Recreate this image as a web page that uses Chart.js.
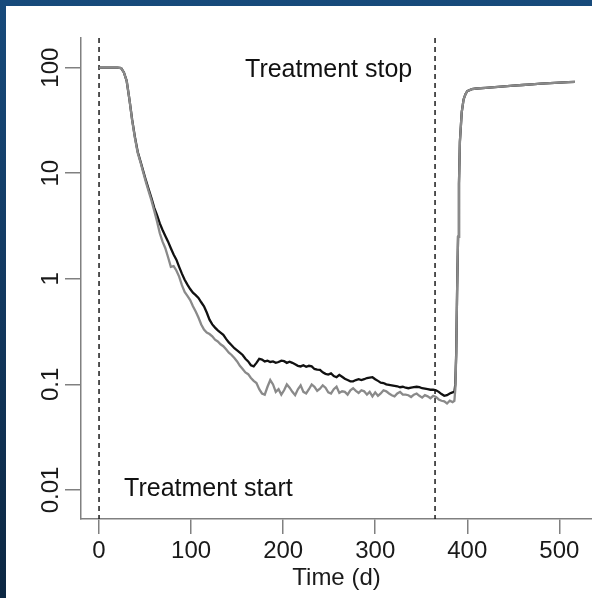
<!DOCTYPE html>
<html>
<head>
<meta charset="utf-8">
<script src="https://cdn.jsdelivr.net/npm/chart.js@4/dist/chart.umd.min.js"></script>
<style>
  html, body { margin: 0; padding: 0; }
  body { width: 592px; height: 598px; overflow: hidden; position: relative;
         background: linear-gradient(to bottom, #174a7b 0%, #12385f 50%, #0c2742 100%); }
  #panel { position: absolute; left: 6px; top: 6px; width: 586px; height: 592px; background: #ffffff; }
  canvas { display: block; }
</style>
</head>
<body>
<div id="panel"><canvas id="c" width="586" height="592"></canvas></div>
<script>
// ---- data ----
const days = [0,5,10,15,20,24,
27,30,33,36,39,42,45,48,51,54,57,60,63,66,69,72,75,78,81,84,87,90,93,96,99,
102,105,108,111,114,117,120,123,126,129,132,135,138,141,144,147,150,153,156,159,
162,165,168,171,174,177,180,183,186,189,192,195,198,201,204,207,210,213,216,219,
222,225,228,231,234,237,240,243,246,249,252,255,258,261,264,267,270,273,276,279,
282,285,288,291,294,297,300,303,306,309,312,315,318,321,324,327,330,333,336,339,
342,345,348,351,354,357,360,363,366,369,372,375,378,381,384,
386,387,388,389,390,391,392,394,396,398,400,405,410,420,430,440,450,460,470,480,490,500,510,517];

const blackValues = [100,100,100,100,100,99,
90,75,50,32,22,16,13,10.5,8.5,7,5.8,4.7,4.0,3.35,2.9,2.55,2.25,1.95,1.7,1.52,1.3,1.12,0.98,0.88,0.8,
0.74,0.7,0.66,0.6,0.55,0.48,0.41,0.37,0.345,0.325,0.31,0.295,0.27,0.25,0.235,0.22,0.21,0.2,0.19,0.175,
0.165,0.152,0.148,0.16,0.175,0.172,0.165,0.168,0.163,0.165,0.16,0.163,0.168,0.166,0.16,0.164,0.16,0.155,0.15,0.148,
0.152,0.147,0.15,0.148,0.14,0.138,0.137,0.13,0.126,0.124,0.127,0.12,0.117,0.123,0.118,0.113,0.11,0.107,0.107,0.11,
0.112,0.11,0.112,0.115,0.116,0.117,0.112,0.108,0.104,0.103,0.1,0.099,0.098,0.097,0.096,0.094,0.095,0.093,0.092,0.093,
0.094,0.095,0.094,0.092,0.091,0.09,0.089,0.089,0.088,0.085,0.081,0.078,0.079,0.082,0.084,
0.085,0.1,0.2,0.8,2.5,8,20,38,50,56,60,62.5,63.5,64.5,65.5,66.5,67.5,68.5,69.5,70.5,71.5,72.3,73,73.5];

const grayValues = [100,100,100,100,100,99,
90,75,50,31.5,21.5,15.6,12.7,10.2,8.2,6.7,5.5,4.4,3.5,2.7,2.25,1.95,1.6,1.3,1.32,1.2,1.05,0.87,0.75,0.69,0.63,
0.55,0.49,0.43,0.37,0.33,0.31,0.3,0.285,0.265,0.255,0.24,0.23,0.215,0.2,0.19,0.178,0.165,0.15,0.14,0.13,
0.125,0.115,0.108,0.103,0.09,0.082,0.08,0.095,0.11,0.1,0.085,0.09,0.08,0.088,0.1,0.093,0.085,0.079,0.09,0.098,
0.085,0.082,0.09,0.1,0.095,0.087,0.091,0.098,0.093,0.084,0.082,0.09,0.095,0.083,0.086,0.085,0.08,0.088,0.092,0.087,
0.083,0.088,0.086,0.08,0.085,0.077,0.084,0.078,0.082,0.088,0.086,0.082,0.079,0.077,0.082,0.085,0.08,0.08,0.079,0.076,
0.08,0.082,0.078,0.075,0.079,0.077,0.074,0.078,0.076,0.072,0.07,0.069,0.066,0.07,0.068,
0.07,0.09,0.19,0.8,2.5,8,20,38,50,56,60,62.5,63.5,64.5,65.5,66.5,67.5,68.5,69.5,70.5,71.5,72.3,73,73.5];

const treatmentDays = [0, 365];
const xTickValues = [0, 100, 200, 300, 400, 500];
const xTickLabels = ['0', '100', '200', '300', '400', '500'];
const yTickValues = [100, 10, 1, 0.1, 0.01];
const yTickLabels = ['100', '10', '1', '0.1', '0.01'];
const annotationTexts = ['Treatment start', 'Treatment stop'];

// ---- chart ----
const X_MIN = -19.6, X_MAX = 535.5;
const Y_MIN = 0.00531, Y_MAX = 191;
const FONT = "'Liberation Sans', Arial, Helvetica, sans-serif";

const toPoints = (xs, ys) => xs.map((x, i) => ({ x: x, y: ys[i] }));

const dashedSets = treatmentDays.map(d => ({
  data: [{ x: d, y: Y_MAX }, { x: d, y: Y_MIN }],
  borderColor: '#1a1a1a', borderWidth: 1.5, borderDash: [5, 4],
  pointRadius: 0, order: 2
}));

const annotationPlugin = {
  id: 'annot',
  afterDatasetsDraw(chart) {
    const { ctx, scales: { x, y } } = chart;
    ctx.save();
    ctx.fillStyle = '#111111';
    ctx.font = "25px " + FONT;
    ctx.textBaseline = 'alphabetic';
    ctx.textAlign = 'left';
    ctx.fillText(annotationTexts[0], x.getPixelForValue(27.2), y.getPixelForValue(0.0088));
    ctx.fillText(annotationTexts[1], x.getPixelForValue(158.6), y.getPixelForValue(81.6));
    ctx.restore();
  }
};

new Chart(document.getElementById('c'), {
  type: 'line',
  data: {
    datasets: [
      { data: toPoints(days, grayValues), borderColor: '#8a8a8a', borderWidth: 2.3,
        pointRadius: 0, tension: 0, order: 0 },
      { data: toPoints(days, blackValues), borderColor: '#111111', borderWidth: 2.3,
        pointRadius: 0, tension: 0, order: 1 },
      ...dashedSets
    ]
  },
  options: {
    responsive: false,
    devicePixelRatio: 1,
    animation: false,
    layout: { padding: { top: 32, left: 0, right: 0, bottom: 0 } },
    plugins: { legend: { display: false }, tooltip: { enabled: false } },
    scales: {
      x: {
        type: 'linear', min: X_MIN, max: X_MAX,
        afterBuildTicks: s => { s.ticks = xTickValues.map(v => ({ value: v })); },
        afterFit: s => { s.height = 79; },
        ticks: {
          callback: v => xTickLabels[xTickValues.indexOf(v)],
          font: { family: FONT, size: 24 }, color: '#1a1a1a', padding: 3,
          maxRotation: 0, minRotation: 0, autoSkip: false
        },
        grid: { display: true, drawOnChartArea: false, drawTicks: true, tickLength: 15,
                color: '#808080', lineWidth: 1.5 },
        border: { display: true, color: '#808080', width: 1.5 },
        title: { display: true, text: 'Time (d)', font: { family: FONT, size: 24 },
                 color: '#1a1a1a', padding: { top: 0, bottom: 5 } }
      },
      y: {
        type: 'logarithmic', min: Y_MIN, max: Y_MAX,
        afterBuildTicks: s => { s.ticks = yTickValues.map(v => ({ value: v, major: true })); },
        afterFit: s => { s.width = 75; },
        ticks: {
          callback: v => yTickLabels[yTickValues.indexOf(v)],
          font: { family: FONT, size: 24 }, color: '#1a1a1a',
          minRotation: 90, maxRotation: 90, crossAlign: 'center', padding: -10, autoSkip: false
        },
        grid: { display: true, drawOnChartArea: false, drawTicks: true, tickLength: 16,
                color: '#808080', lineWidth: 1.5 },
        border: { display: true, color: '#808080', width: 1.5 }
      }
    }
  },
  plugins: [annotationPlugin]
});
</script>
</body>
</html>
